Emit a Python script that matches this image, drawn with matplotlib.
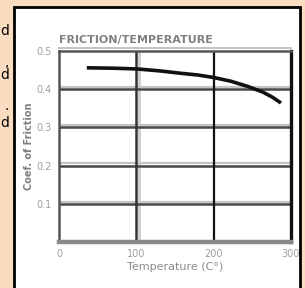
import matplotlib
matplotlib.use("Agg")
import matplotlib.pyplot as plt
from matplotlib.patches import Rectangle

# data
temp = [36, 70, 101, 130, 156, 180, 199, 222, 243, 264, 276, 287]
friction = [0.456, 0.455, 0.453, 0.448, 0.442, 0.437, 0.431, 0.421, 0.408,
            0.392, 0.379, 0.364]

xticks = [0, 100, 200, 300]
xtick_labels = ["0", "100", "200", "300"]
yticks = [0.1, 0.2, 0.3, 0.4, 0.5]
ytick_labels = ["0.1", "0.2", "0.3", "0.4", "0.5"]

W, H = 305, 288
peach = "#fadcc0"

fig = plt.figure(figsize=(W / 100, H / 100), dpi=100)
fig.patch.set_facecolor(peach)

# white panel with black frame, behind the axes
panel = Rectangle((14 / W, -0.02), (300 - 14) / W, (H - 7) / H + 0.02,
                  transform=fig.transFigure, facecolor="white",
                  edgecolor="black", linewidth=2, zorder=-5)
fig.patches.append(panel)

# clipped text fragments on the left edge
for y, s in [(31, "d"), (62, ","), (75, "d"), (106, "."), (123, "d")]:
    fig.text(9 / W, 1 - y / H, s, ha="right", va="center", fontsize=10,
             color="black")

ax = fig.add_axes([59 / W, (H - 242) / H, (291 - 59) / W, (242 - 51) / H])
ax.set_zorder(2)
ax.set_facecolor("white")
ax.set_xlim(0, 300)
ax.set_ylim(0, 0.5)

# grid lines: dark line with a light shadow
for y in yticks[:-1]:
    ax.axhline(y + 0.006, color="#c4c4c4", lw=1.6, zorder=1)
    ax.axhline(y, color="#484848", lw=1.8, zorder=2)
ax.axvline(104, color="#c8c8c8", lw=1.8, zorder=1)
ax.axvline(100, color="#333333", lw=1.8, zorder=2)
ax.axvline(200, color="#111111", lw=1.6, zorder=2)

ax.plot(temp, friction, color="#111111", lw=2.6, zorder=3,
        solid_capstyle="butt")

for side in ["left", "top"]:
    ax.spines[side].set_color("#555555")
    ax.spines[side].set_linewidth(1.8)
ax.spines["right"].set_color("#111111")
ax.spines["right"].set_linewidth(2.4)
ax.spines["bottom"].set_color("#888888")
ax.spines["bottom"].set_linewidth(3.2)
ax.axhline(0.507, color="#c4c4c4", lw=1.4, clip_on=False, zorder=1)

ax.set_xticks(xticks)
ax.set_xticklabels(xtick_labels)
ax.set_yticks(yticks)
ax.set_yticklabels(ytick_labels)
ax.tick_params(length=0, labelsize=7, labelcolor="#a0a0a0")
ax.tick_params(axis="y", pad=5)
ax.tick_params(axis="x", pad=5)

ax.set_xlabel("Temperature (C°)", fontsize=8, color="#8a8a8a", labelpad=2)
ax.set_ylabel("Coef. of Friction", fontsize=7, color="#808080",
              fontweight="bold", labelpad=2)
ax.set_title("FRICTION/TEMPERATURE", fontsize=8, color="#808080",
             fontweight="bold", loc="left", pad=6)

fig.savefig("out.png", dpi=100, facecolor=peach)
